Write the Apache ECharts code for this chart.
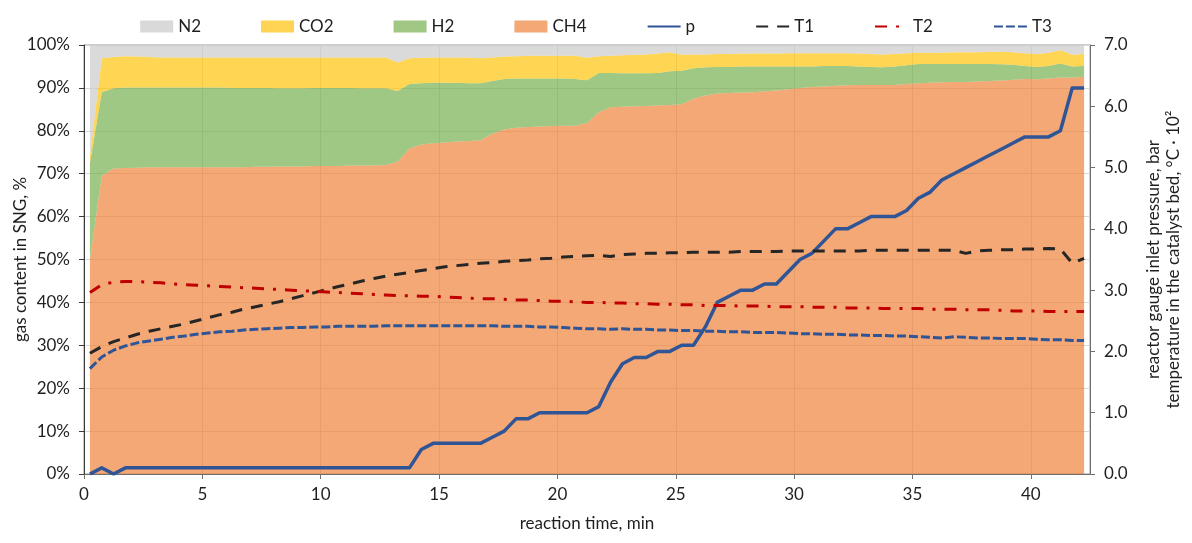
<!DOCTYPE html>
<html>
<head>
<meta charset="utf-8">
<script src="https://cdn.jsdelivr.net/npm/echarts@6/dist/echarts.min.js"></script>
<style>
  html, body { margin: 0; padding: 0; background: #ffffff; }
  #chart { width: 1192px; height: 543px; }
</style>
</head>
<body>
<div id="chart"></div>
<script>
// Sampling times of the run, min
const times = [
  0.25, 0.75, 1.25, 1.75, 2.25, 2.75, 3.25, 3.75, 4.25, 4.75,
  5.25, 5.75, 6.25, 6.75, 7.25, 7.75, 8.25, 8.75, 9.25, 9.75,
  10.25, 10.75, 11.25, 11.75, 12.25, 12.75, 13.25, 13.75, 14.25, 14.75,
  15.25, 15.75, 16.25, 16.75, 17.25, 17.75, 18.25, 18.75, 19.25, 19.75,
  20.25, 20.75, 21.25, 21.75, 22.25, 22.75, 23.25, 23.75, 24.25, 24.75,
  25.25, 25.75, 26.25, 26.75, 27.25, 27.75, 28.25, 28.75, 29.25, 29.75,
  30.25, 30.75, 31.25, 31.75, 32.25, 32.75, 33.25, 33.75, 34.25, 34.75,
  35.25, 35.75, 36.25, 36.75, 37.25, 37.75, 38.25, 38.75, 39.25, 39.75,
  40.25, 40.75, 41.25, 41.75, 42.25
];

// SNG composition, %
const ch4 = [
  50.0, 69.5, 71.2, 71.3, 71.4, 71.5, 71.5, 71.5, 71.5, 71.5,
  71.5, 71.5, 71.5, 71.5, 71.6, 71.6, 71.7, 71.7, 71.7, 71.8,
  71.8, 71.8, 71.9, 71.9, 71.9, 72.0, 72.8, 75.9, 76.8, 77.1,
  77.3, 77.5, 77.6, 77.8, 79.3, 80.3, 80.7, 80.9, 81.0, 81.1,
  81.2, 81.2, 81.8, 84.3, 85.5, 85.6, 85.7, 85.8, 85.9, 86.0,
  86.2, 87.5, 88.2, 88.7, 88.8, 88.9, 89.0, 89.2, 89.4, 89.7,
  90.0, 90.2, 90.3, 90.5, 90.6, 90.7, 90.7, 90.7, 90.7, 90.9,
  91.1, 91.2, 91.3, 91.4, 91.4, 91.5, 91.6, 91.7, 91.9, 92.1,
  92.0, 92.2, 92.4, 92.4, 92.6
];
const h2 = [
  22.4, 19.5, 18.7, 18.8, 18.7, 18.6, 18.6, 18.6, 18.6, 18.6,
  18.6, 18.6, 18.5, 18.5, 18.4, 18.4, 18.2, 18.2, 18.2, 18.2,
  18.2, 18.2, 18.1, 18.0, 18.0, 17.9, 16.5, 15.0, 14.3, 14.1,
  13.9, 13.7, 13.5, 13.3, 12.3, 11.8, 11.5, 11.3, 11.2, 11.1,
  11.0, 10.9, 10.0, 9.2, 8.0, 7.8, 7.7, 7.6, 7.6, 7.9,
  7.8, 7.1, 6.6, 6.2, 6.1, 6.1, 6.0, 5.8, 5.6, 5.3,
  5.0, 4.8, 4.8, 4.6, 4.5, 4.3, 4.2, 4.1, 4.3, 4.4,
  4.5, 4.4, 4.3, 4.2, 4.2, 4.1, 4.0, 3.8, 3.5, 3.0,
  2.9, 2.9, 3.3, 2.6, 2.5
];
const co2 = [
  1.6, 7.9, 7.3, 7.3, 7.2, 7.1, 7.0, 7.0, 7.0, 7.0,
  7.0, 7.0, 7.1, 7.1, 7.1, 7.1, 7.2, 7.2, 7.2, 7.1,
  7.1, 7.1, 7.1, 7.2, 7.2, 7.2, 6.6, 6.0, 5.9, 5.9,
  5.9, 5.9, 6.0, 5.8, 5.5, 5.2, 5.2, 5.3, 5.3, 5.3,
  5.3, 5.4, 5.2, 3.9, 4.0, 4.2, 4.3, 4.4, 4.5, 4.4,
  3.7, 3.2, 3.0, 3.0, 3.0, 3.0, 3.0, 3.0, 3.0, 3.1,
  3.1, 3.1, 3.0, 3.0, 3.0, 3.0, 3.0, 3.0, 2.9, 2.8,
  2.6, 2.6, 2.6, 2.7, 2.7, 2.7, 2.8, 2.9, 2.9, 3.0,
  3.0, 3.1, 3.1, 2.7, 2.8
];
const n2 = [
  26.0, 3.1, 2.8, 2.6, 2.7, 2.8, 2.9, 2.9, 2.9, 2.9,
  2.9, 2.9, 2.9, 2.9, 2.9, 2.9, 2.9, 2.9, 2.9, 2.9,
  2.9, 2.9, 2.9, 2.9, 2.9, 2.9, 4.1, 3.1, 3.0, 2.9,
  2.9, 2.9, 2.9, 3.1, 2.9, 2.7, 2.6, 2.5, 2.5, 2.5,
  2.5, 2.5, 3.0, 2.6, 2.5, 2.4, 2.3, 2.2, 2.0, 1.7,
  2.3, 2.2, 2.2, 2.1, 2.1, 2.0, 2.0, 2.0, 2.0, 1.9,
  1.9, 1.9, 1.9, 1.9, 1.9, 2.0, 2.1, 2.2, 2.1, 1.9,
  1.8, 1.8, 1.8, 1.7, 1.7, 1.7, 1.6, 1.6, 1.7, 1.9,
  2.1, 1.8, 1.2, 2.3, 2.1
];

// Reactor gauge inlet pressure, bar
const pressure = [
  0, 0.1, 0, 0.1, 0.1, 0.1, 0.1, 0.1, 0.1, 0.1,
  0.1, 0.1, 0.1, 0.1, 0.1, 0.1, 0.1, 0.1, 0.1, 0.1,
  0.1, 0.1, 0.1, 0.1, 0.1, 0.1, 0.1, 0.1, 0.4, 0.5,
  0.5, 0.5, 0.5, 0.5, 0.6, 0.7, 0.9, 0.9, 1.0, 1.0,
  1.0, 1.0, 1.0, 1.1, 1.5, 1.8, 1.9, 1.9, 2.0, 2.0,
  2.1, 2.1, 2.4, 2.8, 2.9, 3.0, 3.0, 3.1, 3.1, 3.3,
  3.5, 3.6, 3.8, 4.0, 4.0, 4.1, 4.2, 4.2, 4.2, 4.3,
  4.5, 4.6, 4.8, 4.9, 5.0, 5.1, 5.2, 5.3, 5.4, 5.5,
  5.5, 5.5, 5.6, 6.3, 6.3
];

// Catalyst bed temperatures, °C · 10²
const t1 = [
  1.97, 2.08, 2.16, 2.22, 2.28, 2.33, 2.37, 2.41, 2.45, 2.50,
  2.55, 2.60, 2.64, 2.69, 2.73, 2.77, 2.81, 2.86, 2.91, 2.96,
  3.01, 3.06, 3.10, 3.15, 3.19, 3.23, 3.26, 3.29, 3.32, 3.35,
  3.38, 3.40, 3.42, 3.44, 3.45, 3.47, 3.48, 3.49, 3.51, 3.52,
  3.54, 3.55, 3.56, 3.57, 3.55, 3.58, 3.59, 3.60, 3.60, 3.61,
  3.61, 3.62, 3.62, 3.62, 3.62, 3.63, 3.63, 3.63, 3.63, 3.64,
  3.64, 3.64, 3.64, 3.64, 3.64, 3.64, 3.65, 3.65, 3.65, 3.65,
  3.65, 3.65, 3.65, 3.65, 3.60, 3.64, 3.65, 3.66, 3.66, 3.67,
  3.67, 3.68, 3.67, 3.44, 3.52
];
const t2 = [
  2.96, 3.09, 3.13, 3.14, 3.14, 3.13, 3.12, 3.10, 3.09, 3.08,
  3.07, 3.06, 3.05, 3.04, 3.03, 3.02, 3.01, 3.00, 2.99, 2.98,
  2.97, 2.96, 2.95, 2.94, 2.93, 2.92, 2.91, 2.91, 2.90, 2.90,
  2.89, 2.88, 2.87, 2.86, 2.86, 2.85, 2.84, 2.84, 2.83, 2.82,
  2.82, 2.81, 2.80, 2.80, 2.79, 2.79, 2.78, 2.78, 2.77, 2.77,
  2.76, 2.76, 2.75, 2.75, 2.75, 2.74, 2.74, 2.74, 2.73, 2.73,
  2.73, 2.72, 2.72, 2.72, 2.71, 2.71, 2.71, 2.70, 2.70, 2.70,
  2.70, 2.69, 2.69, 2.69, 2.68, 2.68, 2.68, 2.67, 2.66, 2.66,
  2.66, 2.65, 2.65, 2.65, 2.65
];
const t3 = [
  1.72, 1.91, 2.02, 2.09, 2.14, 2.17, 2.20, 2.23, 2.25, 2.28,
  2.30, 2.32, 2.33, 2.35, 2.36, 2.37, 2.38, 2.39, 2.39, 2.40,
  2.40, 2.41, 2.41, 2.41, 2.41, 2.42, 2.42, 2.42, 2.42, 2.42,
  2.42, 2.42, 2.42, 2.42, 2.42, 2.41, 2.41, 2.41, 2.40, 2.40,
  2.39, 2.38, 2.37, 2.37, 2.36, 2.37, 2.36, 2.36, 2.35, 2.35,
  2.34, 2.34, 2.33, 2.33, 2.32, 2.32, 2.31, 2.31, 2.31, 2.30,
  2.29, 2.29, 2.28, 2.28, 2.27, 2.27, 2.26, 2.26, 2.25, 2.25,
  2.24, 2.23, 2.22, 2.24, 2.23, 2.22, 2.22, 2.21, 2.21, 2.21,
  2.20, 2.19, 2.19, 2.18, 2.18
];

// Axis ticks
const timeTicks = [0, 5, 10, 15, 20, 25, 30, 35, 40];

const FONT = 'Lato, "Noto Sans", sans-serif';
const TEXT = '#1f1f1f';
const AXIS = '#6e6e6e';
const GRID = '#d9d9d9';

// Rows are [value, time] so that the value column is the one that stacks
const rows = arr => times.map((t, i) => [arr[i], t]);

function gasSeries(name, values, fill, swatch) {
  return {
    name: name,
    type: 'line',
    stack: 'gas',
    data: rows(values),
    encode: { x: 1, y: 0 },
    symbol: 'none',
    showSymbol: false,
    color: swatch,
    lineStyle: { width: 0 },
    areaStyle: { color: fill, opacity: 1 },
    z: 1
  };
}

function lineSeries(name, values, color, dash, width) {
  return {
    name: name,
    type: 'line',
    yAxisIndex: 1,
    data: rows(values),
    encode: { x: 1, y: 0 },
    symbol: 'none',
    showSymbol: false,
    color: color,
    lineStyle: { color: color, width: width, type: dash, cap: 'butt', join: 'round' },
    z: 3
  };
}

const lineLegend = name => ({ name: name, itemStyle: { opacity: 0 } });

const chart = echarts.init(document.getElementById('chart'), null, { renderer: 'canvas' });

chart.setOption({
  animation: false,
  textStyle: { fontFamily: FONT, color: TEXT },
  legend: {
    top: 13,
    left: 'center',
    itemWidth: 33,
    itemHeight: 12,
    itemGap: 60,
    textStyle: { fontFamily: FONT, fontSize: 17, color: TEXT },
    data: [
      { name: 'N2', icon: 'rect' },
      { name: 'CO2', icon: 'rect' },
      { name: 'H2', icon: 'rect' },
      { name: 'CH4', icon: 'rect' },
      lineLegend('p'), lineLegend('T1'), lineLegend('T2'), lineLegend('T3')
    ]
  },
  grid: {
    left: 84,
    right: 102,
    top: 45,
    bottom: 69,
    show: true,
    borderColor: '#9a9a9a',
    borderWidth: 1,
    containLabel: false,
    outerBoundsMode: 'none'
  },
  xAxis: {
    type: 'value',
    min: 0,
    max: 42.5,
    interval: 5,
    name: 'reaction time, min',
    nameLocation: 'middle',
    nameGap: 41,
    nameTextStyle: { fontFamily: FONT, fontSize: 17, color: TEXT },
    axisLine: { show: true, lineStyle: { color: AXIS, width: 1 } },
    axisTick: { show: true, length: 5, lineStyle: { color: AXIS }, customValues: timeTicks },
    axisLabel: { fontSize: 17, color: TEXT, margin: 12, customValues: timeTicks },
    splitLine: { show: true, lineStyle: { color: GRID, width: 1 } }
  },
  yAxis: [
    {
      type: 'value',
      min: 0,
      max: 100,
      interval: 10,
      position: 'left',
      name: 'gas content in SNG, %',
      nameLocation: 'middle',
      nameRotate: 90,
      nameGap: 55,
      nameMoveOverlap: false,
      nameTextStyle: { fontFamily: FONT, fontSize: 17, color: TEXT },
      axisLine: { show: true, lineStyle: { color: '#3a3a3a', width: 1 } },
      axisTick: { show: true, length: 5, lineStyle: { color: '#3a3a3a' } },
      axisLabel: { fontSize: 17, color: TEXT, margin: 14, formatter: '{value}%' },
      splitLine: { show: true, lineStyle: { color: GRID, width: 1 } }
    },
    {
      type: 'value',
      min: 0,
      max: 7,
      interval: 1,
      position: 'right',
      name: 'reactor gauge inlet pressure, bar\ntemperature in the catalyst bed, °C · 10²',
      nameLocation: 'middle',
      nameRotate: 90,
      nameGap: 54,
      nameMoveOverlap: false,
      nameTextStyle: { fontFamily: FONT, fontSize: 17, color: TEXT, lineHeight: 20 },
      axisLine: { show: true, lineStyle: { color: AXIS, width: 1 } },
      axisTick: { show: true, length: 5, lineStyle: { color: AXIS } },
      axisLabel: { fontSize: 17, color: TEXT, margin: 14, formatter: v => v.toFixed(1) },
      splitLine: { show: false }
    }
  ],
  series: [
    gasSeries('CH4', ch4, 'rgba(237,125,49,0.67)', '#f3a875'),
    gasSeries('H2', h2, 'rgba(112,173,71,0.67)', '#a0c884'),
    gasSeries('CO2', co2, 'rgba(255,192,0,0.67)', '#ffd454'),
    gasSeries('N2', n2, 'rgba(200,200,200,0.68)', '#d9d9d9'),
    lineSeries('p', pressure, '#2f5597', 'solid', 3.5),
    lineSeries('T1', t1, '#262626', [12, 9], 3),
    lineSeries('T2', t2, '#c00000', [12, 9, 3, 9], 3),
    lineSeries('T3', t3, '#2f5597', [9, 3], 3)
  ]
});
</script>
</body>
</html>
